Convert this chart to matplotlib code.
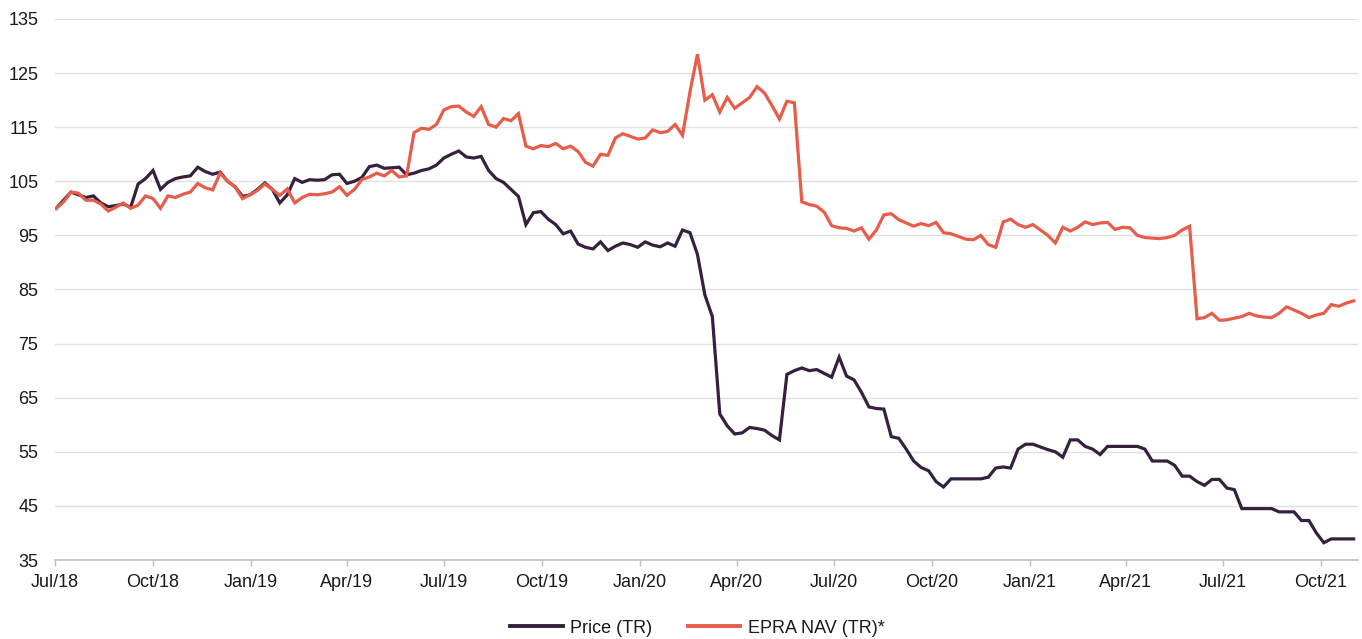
import matplotlib
matplotlib.use("Agg")
import matplotlib.pyplot as plt
import matplotlib.dates as mdates
import pandas as pd

# Weekly observations (Mondays) from Jul 2018
start_date = "2018-07-02"
end_limit = "2021-11-05"

price_tr = [
    100, 101.5, 103, 102.5, 102, 102.3, 101, 100.3, 100.5, 100.8,
    100.2, 104.5, 105.5, 107, 103.5, 104.8, 105.5, 105.8, 106, 107.6,
    106.8, 106.3, 106.7, 105, 104, 102.2, 102.5, 103.5, 104.7, 103.5,
    101, 102.5, 105.5, 104.8, 105.3, 105.2, 105.3, 106.2, 106.3, 104.6,
    105, 105.7, 107.7, 108, 107.4, 107.5, 107.6, 106.2, 106.5, 107,
    107.3, 108, 109.3, 110, 110.6, 109.5, 109.3, 109.6, 107, 105.5,
    104.8, 103.5, 102.2, 97, 99.2, 99.4, 98, 97, 95.3, 95.8,
    93.4, 92.8, 92.5, 93.8, 92.2, 93, 93.6, 93.3, 92.8, 93.8,
    93.2, 92.9, 93.6, 93, 96, 95.5, 91.5, 84, 80, 62,
    59.8, 58.3, 58.5, 59.5, 59.3, 59, 58, 57.2, 69.3, 70,
    70.5, 70, 70.2, 69.5, 68.8, 72.5, 69, 68.3, 66, 63.3,
    63, 62.9, 57.8, 57.5, 55.5, 53.3, 52.1, 51.5, 49.5, 48.5,
    50, 50, 50, 50, 50, 50.3, 52, 52.2, 52, 55.5,
    56.4, 56.4, 55.9, 55.4, 55, 54, 57.2, 57.2, 56, 55.5,
    54.5, 56, 56, 56, 56, 56, 55.5, 53.3, 53.3, 53.3,
    52.5, 50.5, 50.5, 49.5, 48.8, 49.9, 49.9, 48.3, 48, 44.5,
    44.5, 44.5, 44.5, 44.5, 43.9, 43.9, 43.9, 42.3, 42.3, 40,
    38.2, 38.9, 38.9, 38.9, 38.9,
]

epra_nav_tr = [
    100, 101.2, 103, 102.8, 101.5, 101.5, 100.8, 99.5, 100.2, 101,
    100, 100.6, 102.3, 101.8, 100, 102.3, 102, 102.6, 103, 104.6,
    103.8, 103.4, 106.5, 105, 104, 101.8, 102.5, 103.3, 104.5, 103.5,
    102.4, 103.6, 101, 102, 102.6, 102.5, 102.7, 103, 104, 102.4,
    103.5, 105.3, 105.8, 106.5, 106, 107, 105.8, 106, 114, 114.8,
    114.6, 115.5, 118.2, 118.8, 118.9, 117.8, 117, 118.8, 115.5, 115,
    116.6, 116.2, 117.5, 111.5, 111, 111.6, 111.4, 112, 111, 111.5,
    110.5, 108.5, 107.8, 110, 109.8, 113, 113.8, 113.3, 112.8, 113,
    114.5, 114, 114.2, 115.5, 113.5, 121.5, 128.5, 120, 121, 117.8,
    120.5, 118.5, 119.5, 120.5, 122.5, 121.3, 119, 116.5, 119.8, 119.5,
    101.2, 100.7, 100.4, 99.3, 96.8, 96.4, 96.3, 95.8, 96.4, 94.3,
    96, 98.8, 99, 97.9, 97.3, 96.7, 97.2, 96.8, 97.4, 95.5,
    95.3, 94.8, 94.3, 94.2, 95, 93.3, 92.8, 97.5, 98, 97,
    96.5, 97, 96, 95, 93.6, 96.5, 95.8, 96.5, 97.5, 97,
    97.3, 97.4, 96.1, 96.5, 96.4, 95, 94.6, 94.5, 94.4, 94.6,
    95, 96, 96.7, 79.6, 79.8, 80.6, 79.3, 79.4, 79.7, 80,
    80.6, 80.1, 79.9, 79.8, 80.6, 81.8, 81.2, 80.6, 79.8, 80.3,
    80.6, 82.2, 81.9, 82.5, 82.9,
]

series_labels = ["Price (TR)", "EPRA NAV (TR)*"]
y_ticks = [35, 45, 55, 65, 75, 85, 95, 105, 115, 125, 135]

dates = pd.date_range(start_date, periods=len(price_tr), freq="7D")

plt.rcParams["font.family"] = ["Liberation Sans", "DejaVu Sans"]

fig = plt.figure(figsize=(13.62, 6.39), dpi=100)
ax = fig.add_axes([0.0404, 0.1236, 0.9566, 0.8467])

purple = "#35203d"
coral = "#e85c4a"

ax.plot(dates, price_tr, color=purple, lw=2.3, label=series_labels[0], zorder=3,
        solid_joinstyle="miter")
ax.plot(dates, epra_nav_tr, color=coral, lw=2.3, label=series_labels[1], zorder=4,
        solid_joinstyle="miter")

ax.set_ylim(35, 135)
ax.set_yticks(y_ticks)
ax.set_xlim(pd.Timestamp("2018-07-01"), pd.Timestamp(end_limit))
ax.xaxis.set_major_locator(mdates.MonthLocator(bymonth=[1, 4, 7, 10]))
ax.xaxis.set_major_formatter(mdates.DateFormatter("%b/%y"))

ax.grid(axis="y", color="#e0e0e0", lw=1.0, zorder=0)
ax.set_axisbelow(True)
for s in ["top", "right", "left"]:
    ax.spines[s].set_visible(False)
ax.spines["bottom"].set_color("#c0c0c0")
ax.spines["bottom"].set_linewidth(1.2)

ax.tick_params(axis="y", length=0, pad=12, labelsize=13, labelcolor="#1a1a1a")
ax.tick_params(axis="x", length=4, width=1, color="#c0c0c0", pad=6,
               labelsize=13, labelcolor="#1a1a1a")

leg = fig.legend(loc="lower center", bbox_to_anchor=(0.512, -0.022), ncol=2,
                 frameon=False, fontsize=13, handlelength=2.9,
                 columnspacing=2.0, handletextpad=0.4)
for line in leg.get_lines():
    line.set_linewidth(2.8)
for t in leg.get_texts():
    t.set_color("#1a1a1a")

fig.savefig("out.png", dpi=100)
